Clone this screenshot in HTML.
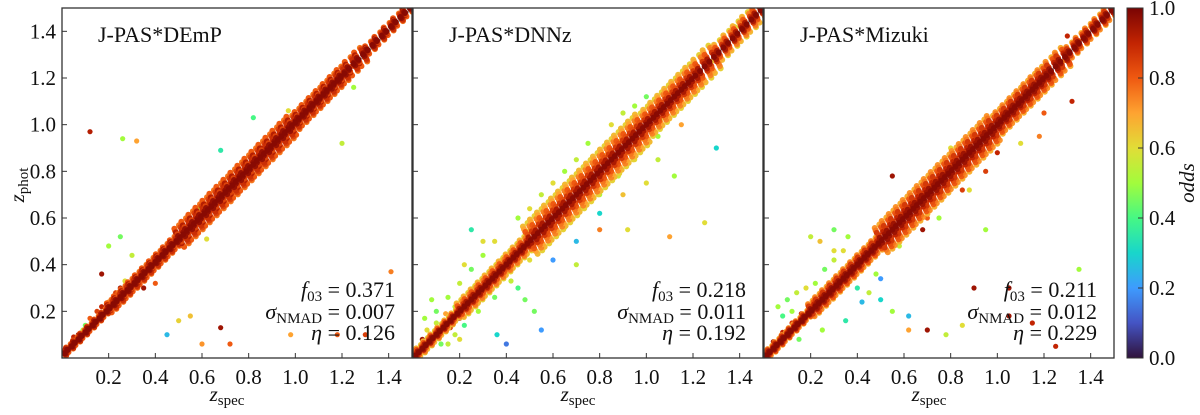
<!DOCTYPE html>
<html><head><meta charset="utf-8">
<style>
html,body{margin:0;padding:0;background:#fff;}
svg, svg text{font-family:"Liberation Serif","Times New Roman","DejaVu Serif",serif;}
svg text{fill:#111;}
</style></head>
<body>
<svg id="chart" width="1200" height="410" viewBox="0 0 1200 410" xmlns="http://www.w3.org/2000/svg" style="font-family:'Liberation Serif','Times New Roman',serif">
<defs>
<linearGradient id="cbg" x1="0" y1="1" x2="0" y2="0">
<stop offset="0" stop-color="#30123b"/><stop offset="0.1" stop-color="#4454c4"/><stop offset="0.2" stop-color="#3e9bfe"/><stop offset="0.3" stop-color="#18d6cb"/><stop offset="0.4" stop-color="#46f884"/><stop offset="0.5" stop-color="#a2fc3c"/><stop offset="0.6" stop-color="#e1dd37"/><stop offset="0.7" stop-color="#fea331"/><stop offset="0.8" stop-color="#ef5911"/><stop offset="0.9" stop-color="#c22402"/><stop offset="1" stop-color="#7a0403"/>
</linearGradient>
</defs>
<g id="panels"></g>
<g id="colorbar"></g>
</svg>
<script>
// ---- data ----
const panelTitles = ["J-PAS*DEmP","J-PAS*DNNz","J-PAS*Mizuki"];
const f03Values = ["0.371","0.218","0.211"];
const nmadValues = ["0.007","0.011","0.012"];
const etaValues = ["0.126","0.192","0.229"];
const tickValues = [0.2,0.4,0.6,0.8,1.0,1.2,1.4];
const cbTicks = [0.0,0.2,0.4,0.6,0.8,1.0];

const coreZs = [0.010,0.025,0.040,0.055,0.070,0.085,0.100,0.115,0.130,0.145,0.160,0.175,0.190,0.205,0.220,0.235,0.250,0.265,0.280,0.295,0.310,0.325,0.340,0.355,0.370,0.385,0.400,0.415,0.430,0.445,0.460,0.475,0.490,0.505,0.520,0.535,0.550,0.565,0.580,0.595,0.610,0.625,0.640,0.655,0.670,0.685,0.700,0.715,0.730,0.745,0.760,0.775,0.790,0.805,0.820,0.835,0.850,0.865,0.880,0.895,0.910,0.925,0.940,0.955,0.970,0.985,1.000,1.015,1.030,1.045,1.060,1.075,1.090,1.105,1.120,1.135,1.150,1.165,1.180,1.195,1.210,1.230,1.250,1.270,1.290,1.310,1.330,1.350,1.370,1.390,1.410,1.430,1.450,1.470,1.490];
// half-width of the core band (in z) for bins: <0.2, <0.5, <1.0, <1.3, >=1.3
const coreSpreadP1 = [0.015,0.03,0.06,0.045,0.025];
const coreSpreadP2 = [0.025,0.045,0.09,0.075,0.05];
const coreSpreadP3 = [0.02,0.04,0.08,0.06,0.035];
// odds of core band rings (outermost -> center)
const ringOddsP1 = [0.8,0.84,0.92,0.88,0.96,0.98];
const ringOddsP2 = [0.66,0.74,0.8,0.86,0.93,0.98];
const ringOddsP3 = [0.72,0.8,0.86,0.9,0.95,0.98];

const p1Zs = [0.05,0.07,0.09,0.12,0.15,0.17,0.2,0.23,0.25,0.27,0.29,0.32,0.35,0.38,0.42,0.45,0.48,0.52,0.55,0.58,0.6,0.62,0.64,0.66,0.68,0.7,0.71,0.73,0.75,0.77,0.79,0.8,0.82,0.84,0.86,0.88,0.9,0.92,0.94,0.96,0.98,1.0,1.02,1.05,1.08,1.1,1.13,1.16,1.2,1.24,0.66,0.7,0.74,0.78,0.82,0.86,0.9,0.62,0.72,0.76,0.12,0.26,0.32,0.45,0.55,0.5,0.6,0.68,0.72,0.98,1.18,1.3,1.41,0.1,0.2,0.25,0.68,0.82,0.97,1.2,0.4,0.9,1.25,0.35,0.3,0.17,0.62,0.58];
const p1Zp = [0.09,0.1,0.12,0.17,0.2,0.22,0.24,0.28,0.3,0.33,0.31,0.34,0.37,0.41,0.44,0.46,0.5,0.55,0.57,0.6,0.64,0.66,0.68,0.7,0.72,0.74,0.73,0.76,0.78,0.8,0.83,0.82,0.85,0.86,0.9,0.9,0.94,0.95,0.96,1.0,1.0,1.04,1.04,1.08,1.1,1.12,1.14,1.18,1.22,1.25,0.63,0.67,0.71,0.75,0.79,0.83,0.87,0.65,0.75,0.8,0.97,0.94,0.93,0.1,0.18,0.16,0.06,0.13,0.06,0.1,0.1,0.1,0.37,0.14,0.48,0.52,0.89,1.03,1.06,0.92,0.32,0.87,1.16,0.3,0.44,0.36,0.51,0.64];
const p1Od = [0.9,0.95,0.55,0.8,0.85,0.9,0.7,0.85,0.95,0.6,0.9,0.85,0.8,0.75,0.85,0.9,0.8,0.85,0.9,0.8,0.85,0.75,0.9,0.95,0.85,0.8,0.9,0.75,0.85,0.9,0.8,0.95,0.85,0.8,0.9,0.75,0.85,0.8,0.9,0.85,0.75,0.8,0.9,0.85,0.8,0.7,0.85,0.9,0.8,0.85,0.8,0.75,0.8,0.85,0.75,0.8,0.85,0.8,0.75,0.85,0.92,0.5,0.7,0.25,0.65,0.62,0.72,0.95,0.8,0.7,0.8,0.85,0.75,0.45,0.5,0.45,0.35,0.4,0.6,0.55,0.8,0.3,0.5,0.95,0.55,0.95,0.6,0.5];

const p2Zs = [0.04,0.06,0.08,0.1,0.12,0.14,0.16,0.18,0.2,0.22,0.24,0.26,0.28,0.3,0.32,0.34,0.36,0.38,0.4,0.42,0.44,0.46,0.48,0.5,0.52,0.55,0.58,0.6,0.63,0.66,0.69,0.72,0.75,0.78,0.8,0.83,0.86,0.89,0.92,0.95,0.98,1.02,1.06,1.1,1.15,1.2,1.28,1.35,1.4,0.1,0.15,0.2,0.25,0.3,0.35,0.45,0.5,0.55,0.6,0.65,0.7,0.75,0.85,0.9,0.95,1.0,0.05,0.12,0.18,0.22,0.28,0.35,0.42,0.5,0.58,0.65,0.72,0.8,0.88,0.95,1.05,0.25,0.3,0.45,0.6,0.7,0.8,0.9,1.0,1.05,1.1,1.3,1.25,0.15,0.2,0.4,0.48,0.55,0.62,0.8,0.85,1.15,1.38,0.08,0.22,0.36,0.52,0.7,0.92,1.12];
const p2Zp = [0.08,0.12,0.06,0.15,0.1,0.19,0.13,0.22,0.17,0.25,0.21,0.3,0.24,0.33,0.29,0.38,0.32,0.42,0.37,0.45,0.42,0.5,0.45,0.55,0.49,0.59,0.55,0.64,0.6,0.7,0.66,0.76,0.72,0.82,0.77,0.87,0.83,0.93,0.88,0.99,0.94,1.06,1.02,1.14,1.12,1.24,1.27,1.34,1.42,0.2,0.26,0.32,0.38,0.44,0.5,0.6,0.64,0.7,0.75,0.8,0.85,0.92,1.0,1.05,1.08,1.12,0.17,0.06,0.1,0.14,0.2,0.26,0.33,0.42,0.5,0.56,0.64,0.7,0.78,0.85,0.95,0.55,0.5,0.3,0.42,0.5,0.62,0.7,0.75,0.85,0.52,0.9,0.58,0.06,0.08,0.06,0.25,0.12,0.6,0.55,0.8,1.0,1.42,0.25,0.4,0.1,0.2,0.4,0.55,0.78];
const p2Od = [0.95,0.6,0.9,0.55,0.8,0.7,0.85,0.55,0.9,0.65,0.85,0.6,0.9,0.7,0.85,0.65,0.9,0.7,0.8,0.6,0.85,0.7,0.8,0.65,0.85,0.7,0.8,0.75,0.8,0.7,0.85,0.75,0.8,0.7,0.75,0.7,0.8,0.65,0.75,0.7,0.65,0.7,0.6,0.65,0.7,0.6,0.65,0.6,0.6,0.45,0.5,0.55,0.45,0.5,0.6,0.5,0.6,0.55,0.6,0.5,0.55,0.5,0.6,0.55,0.5,0.45,0.5,0.45,0.55,0.4,0.5,0.45,0.55,0.6,0.5,0.45,0.55,0.5,0.55,0.6,0.5,0.35,0.6,0.4,0.2,0.25,0.3,0.65,0.6,0.55,0.7,0.3,0.6,0.55,0.6,0.15,0.45,0.2,0.65,0.75,0.5,0.7,0.6,0.5,0.6,0.3,0.45,0.55,0.6,0.5];

const p3Zs = [0.04,0.06,0.08,0.1,0.12,0.14,0.16,0.18,0.2,0.22,0.24,0.26,0.28,0.3,0.32,0.34,0.36,0.38,0.4,0.42,0.44,0.46,0.48,0.5,0.52,0.55,0.58,0.6,0.63,0.66,0.69,0.72,0.75,0.78,0.8,0.83,0.86,0.89,0.92,0.95,0.98,1.02,1.06,1.1,1.15,1.2,1.28,1.35,1.4,0.06,0.1,0.14,0.18,0.22,0.26,0.3,0.34,0.08,0.12,0.2,0.24,0.3,0.36,0.4,0.45,0.5,0.55,0.62,0.7,0.78,0.85,0.95,1.05,1.15,1.25,1.35,1.38,0.15,0.25,0.35,0.42,0.5,0.58,0.68,0.75,0.8,0.88,0.95,1.0,1.1,1.2,0.9,1.05,0.62,0.8,1.3,1.42,0.3,0.55,0.48,0.7,0.85,1.18,1.32];
const p3Zp = [0.07,0.05,0.11,0.09,0.15,0.13,0.19,0.17,0.23,0.21,0.27,0.25,0.31,0.29,0.35,0.33,0.39,0.37,0.43,0.41,0.47,0.45,0.5,0.49,0.55,0.57,0.6,0.62,0.65,0.68,0.7,0.74,0.76,0.8,0.82,0.84,0.88,0.9,0.93,0.97,0.99,1.03,1.07,1.1,1.16,1.2,1.27,1.36,1.42,0.22,0.25,0.28,0.3,0.32,0.38,0.42,0.46,0.18,0.2,0.52,0.5,0.55,0.52,0.3,0.28,0.25,0.2,0.18,0.12,0.1,0.14,0.55,0.18,0.15,0.05,0.38,1.38,0.08,0.12,0.16,0.24,0.34,0.48,0.55,0.6,0.78,0.72,0.8,0.88,0.92,1.05,0.3,0.3,0.12,0.9,1.38,1.4,0.46,0.78,0.36,0.6,0.72,0.95,1.1];
const p3Od = [0.95,0.7,0.9,0.55,0.85,0.6,0.9,0.7,0.85,0.6,0.9,0.75,0.85,0.7,0.9,0.8,0.85,0.75,0.9,0.8,0.85,0.8,0.9,0.85,0.8,0.85,0.9,0.85,0.8,0.9,0.85,0.8,0.9,0.85,0.8,0.9,0.85,0.8,0.9,0.85,0.8,0.85,0.8,0.85,0.8,0.85,0.75,0.8,0.7,0.5,0.45,0.55,0.6,0.5,0.45,0.55,0.6,0.4,0.5,0.55,0.65,0.45,0.5,0.35,0.55,0.3,0.5,0.25,0.95,0.55,0.6,0.5,0.95,0.9,0.9,0.5,0.95,0.45,0.5,0.35,0.25,0.2,0.55,0.95,0.5,0.7,0.6,0.85,0.9,0.6,0.8,0.95,0.95,0.7,0.6,0.9,0.55,0.6,0.95,0.5,0.8,0.85,0.75,0.9];

const panelZs = [p1Zs,p2Zs,p3Zs], panelZp=[p1Zp,p2Zp,p3Zp], panelOd=[p1Od,p2Od,p3Od];
const panelSpread = [coreSpreadP1,coreSpreadP2,coreSpreadP3];
const panelRingOdds = [ringOddsP1,ringOddsP2,ringOddsP3];
const panelCoreOffset = [0.01,0.0,0.0];

// ---- helpers ----
const NS="http://www.w3.org/2000/svg";
const FONTSTYLE="font-family:'Liberation Serif','Times New Roman','DejaVu Serif',serif";
const turbo=[[48,18,59],[68,84,196],[62,155,254],[24,214,203],[70,248,132],[162,252,60],[225,221,55],[254,163,49],[239,89,17],[194,36,2],[122,4,3]];
function color(t){t=Math.max(0,Math.min(1,t))*10;const i=Math.min(9,Math.floor(t)),f=t-i;const a=turbo[i],b=turbo[i+1];return `rgb(${a.map((v,k)=>Math.round(v+(b[k]-v)*f)).join(',')})`;}
function mk(tag,attrs,parent){const e=document.createElementNS(NS,tag);for(const k in attrs)e.setAttribute(k,attrs[k]);if(tag==='text')e.setAttribute('style',FONTSTYLE);parent.appendChild(e);return e;}
const plotTop=8,plotSize=350,zLo=0,zHi=1.5;
const lefts=[62,413,764];
function xS(p,v){return lefts[p]+(v-zLo)/(zHi-zLo)*plotSize;}
function yS(v){return plotTop+plotSize-(v-zLo)/(zHi-zLo)*plotSize;}
function spreadFor(p,z){const s=panelSpread[p];return z<0.2?s[0]:z<0.5?s[1]:z<1.0?s[2]:z<1.3?s[3]:s[4];}
const ringFrac=[1.0,0.8,0.6,0.4,0.2,0];
const ringShift=[0.3,-0.5,0.6,-0.2,0.45,0];

const root=document.getElementById('panels');
for(let p=0;p<3;p++){
  const g=mk('g',{},root);
  
  
  const clipId='clip'+p;
  const cp=mk('clipPath',{id:clipId},g);mk('rect',{x:lefts[p],y:plotTop,width:plotSize,height:plotSize},cp);
  const l=mk('line',{x1:xS(p,0),y1:yS(0),x2:xS(p,1.5),y2:yS(1.5),stroke:'#999','stroke-width':2},g);
  
  
  const pts=mk('g',{'clip-path':`url(#${clipId})`},g);
  
  
  const zs=panelZs[p],zp=panelZp[p],od=panelOd[p];
  for(let i=0;i<zs.length;i++){
    const c=mk('circle',{cx:xS(p,zs[i]),cy:yS(zp[i]),r:2.6,fill:color(od[i])},pts);
    
    
  }
  const ro=panelRingOdds[p];
  for(let r=0;r<ringFrac.length;r++){
    for(let i=0;i<coreZs.length;i++){
      const z=coreZs[i], s=spreadFor(p,z);
      const sides = ringFrac[r]===0?[0]:[-1,1];
      for(const sd of sides){
        const alt=((i+r)%2===0)?1:-1;
        const d=sd*s*ringFrac[r];
        const dx=ringShift[r]*0.008*alt;
        const oddsVal = (alt>0 && r<4) ? ro[r]-0.04 : ro[r];
        const c=mk('circle',{cx:xS(p,z+dx-d*0.35),cy:yS(z+panelCoreOffset[p]+d*0.65),r:3,fill:color(oddsVal)},pts);
        
        
      }
    }
  }
  const fr=mk('rect',{x:lefts[p],y:plotTop,width:plotSize,height:plotSize,fill:'none',stroke:'#333','stroke-width':1.3},g);
  
  
  for(const t of tickValues){
    mk('line',{x1:xS(p,t),y1:plotTop+plotSize,x2:xS(p,t),y2:plotTop+plotSize-5,stroke:'#333','stroke-width':1},g);
    mk('line',{x1:lefts[p],y1:yS(t),x2:lefts[p]+5,y2:yS(t),stroke:'#333','stroke-width':1},g);
    const tl=mk('text',{x:xS(p,t),y:384,'font-size':21,'text-anchor':'middle'},g);
    tl.textContent=t.toFixed(1);
    
    
    if(p===0){
      const yl=mk('text',{x:56,y:yS(t)+7,'font-size':21,'text-anchor':'end'},g);
      yl.textContent=t.toFixed(1);
      
      
    }
  }
  const ti=mk('text',{x:lefts[p]+36,y:42,'font-size':22},g);
  ti.textContent=panelTitles[p];
  
  
  const rx=lefts[p]+plotSize-17;
  const s1=mk('text',{x:rx,y:297,'font-size':22,'text-anchor':'end'},g);
  s1.innerHTML='<tspan font-style="italic">f</tspan><tspan font-size="15" dy="4">03</tspan><tspan dy="-4"> = '+f03Values[p]+'</tspan>';
  
  
  const s2=mk('text',{x:rx,y:319,'font-size':22,'text-anchor':'end'},g);
  s2.innerHTML='<tspan font-style="italic">σ</tspan><tspan font-size="15" dy="4">NMAD</tspan><tspan dy="-4"> = '+nmadValues[p]+'</tspan>';
  
  
  const s3=mk('text',{x:rx,y:340,'font-size':22,'text-anchor':'end'},g);
  s3.innerHTML='<tspan font-style="italic">η</tspan> = '+etaValues[p];
  
  
  const xl=mk('text',{x:lefts[p]+plotSize/2-10,y:401,'font-size':21,'text-anchor':'middle'},g);
  xl.innerHTML='<tspan font-style="italic">z</tspan><tspan font-size="15" dy="4">spec</tspan>';
  
  
}
const yt=mk('text',{x:0,y:0,'font-size':21,'text-anchor':'middle',transform:'translate(24,185) rotate(-90)'},root);
yt.innerHTML='<tspan font-style="italic">z</tspan><tspan font-size="15" dy="4">phot</tspan>';



const cb=document.getElementById('colorbar');
mk('rect',{x:1127,y:plotTop,width:16,height:plotSize,fill:'url(#cbg)',stroke:'#333','stroke-width':1},cb);
for(const t of cbTicks){
  const y=plotTop+plotSize-t*plotSize;
  mk('line',{x1:1138,y1:y,x2:1143,y2:y,stroke:'#333','stroke-width':1},cb);
  const tx=mk('text',{x:1149,y:y+7,'font-size':21},cb);
  tx.textContent=t.toFixed(1);
  
  
}
const cbl=mk('text',{x:0,y:0,'font-size':21,'font-style':'italic','text-anchor':'middle',transform:'translate(1194,183) rotate(-90)'},cb);
cbl.textContent='odds';


</script>
</body></html>
